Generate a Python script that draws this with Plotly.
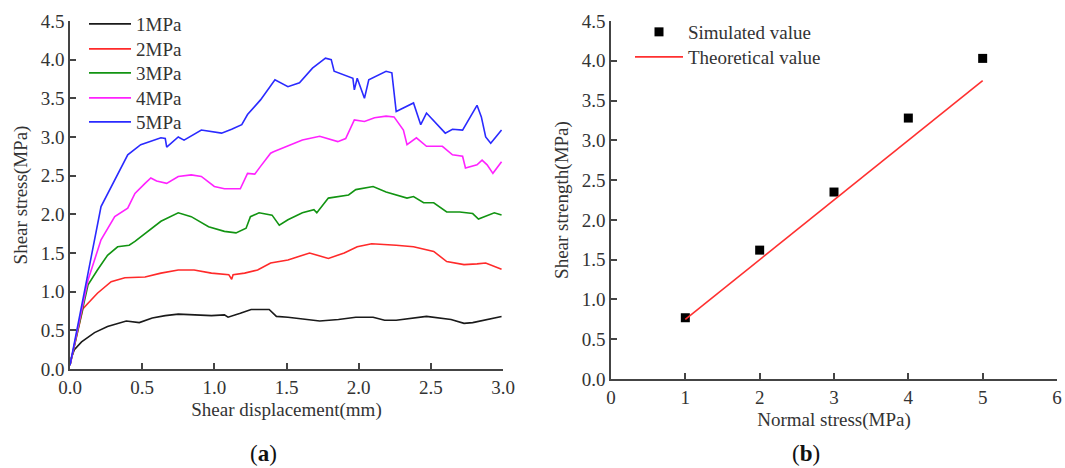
import plotly.graph_objects as go

# ---------------- data: panel (a) shear stress vs shear displacement ----------------
disp_1MPa = [0, 0.01, 0.03, 0.08, 0.17, 0.26, 0.39, 0.48, 0.57, 0.66, 0.75, 0.98, 1.07, 1.095, 1.18,
             1.255, 1.38, 1.43, 1.51, 1.73, 1.86, 1.98, 2.10, 2.18, 2.26, 2.47, 2.64, 2.73, 2.79, 2.88, 2.99]
stress_1MPa = [0.05, 0.15, 0.25, 0.35, 0.47, 0.55, 0.62, 0.60, 0.66, 0.69, 0.71, 0.69, 0.70, 0.67, 0.72,
               0.77, 0.77, 0.68, 0.67, 0.62, 0.64, 0.67, 0.67, 0.63, 0.63, 0.68, 0.64, 0.59, 0.60, 0.64, 0.68]

disp_2MPa = [0, 0.055, 0.09, 0.125, 0.19, 0.285, 0.38, 0.52, 0.63, 0.75, 0.86, 0.98, 1.10, 1.12, 1.13, 1.21,
             1.30, 1.39, 1.51, 1.66, 1.79, 1.90, 1.99, 2.09, 2.19, 2.26, 2.38, 2.52, 2.61, 2.73, 2.82, 2.88, 2.99]
stress_2MPa = [0.05, 0.50, 0.78, 0.85, 0.98, 1.13, 1.18, 1.19, 1.24, 1.28, 1.28, 1.24, 1.22, 1.16, 1.22, 1.24,
               1.28, 1.37, 1.41, 1.50, 1.43, 1.50, 1.58, 1.62, 1.61, 1.60, 1.58, 1.52, 1.39, 1.35, 1.36, 1.37, 1.29]

disp_3MPa = [0, 0.09, 0.125, 0.19, 0.26, 0.33, 0.41, 0.45, 0.54, 0.63, 0.75, 0.84, 0.96, 1.07, 1.15, 1.22,
             1.25, 1.31, 1.40, 1.45, 1.51, 1.61, 1.69, 1.71, 1.79, 1.93, 1.98, 2.10, 2.19, 2.26, 2.335,
             2.38, 2.45, 2.52, 2.61, 2.70, 2.79, 2.83, 2.94, 2.99]
stress_3MPa = [0.05, 0.82, 1.09, 1.28, 1.47, 1.58, 1.60, 1.65, 1.78, 1.91, 2.02, 1.97, 1.84, 1.78, 1.76, 1.82,
               1.97, 2.02, 1.99, 1.86, 1.93, 2.02, 2.06, 2.02, 2.21, 2.25, 2.32, 2.36, 2.29, 2.25, 2.21,
               2.23, 2.15, 2.15, 2.03, 2.03, 2.01, 1.94, 2.02, 1.99]

disp_4MPa = [0, 0.09, 0.125, 0.215, 0.31, 0.40, 0.45, 0.52, 0.56, 0.60, 0.67, 0.75, 0.84, 0.91, 1.00, 1.07,
             1.18, 1.23, 1.28, 1.32, 1.39, 1.41, 1.51, 1.61, 1.73, 1.855, 1.91, 1.97, 2.04, 2.11, 2.19,
             2.245, 2.31, 2.335, 2.40, 2.47, 2.58, 2.65, 2.72, 2.74, 2.82, 2.855, 2.89, 2.93, 2.99]
stress_4MPa = [0.05, 0.82, 1.15, 1.67, 1.97, 2.08, 2.27, 2.40, 2.47, 2.43, 2.40, 2.49, 2.51, 2.49, 2.36, 2.33,
               2.33, 2.53, 2.52, 2.62, 2.79, 2.81, 2.88, 2.96, 3.01, 2.94, 2.98, 3.22, 3.20, 3.25, 3.27,
               3.26, 3.09, 2.90, 2.99, 2.88, 2.88, 2.77, 2.75, 2.60, 2.64, 2.70, 2.64, 2.53, 2.68]

disp_5MPa = [0, 0.09, 0.125, 0.215, 0.31, 0.40, 0.49, 0.63, 0.66, 0.67, 0.75, 0.79, 0.91, 1.05, 1.12, 1.19,
             1.23, 1.32, 1.42, 1.46, 1.51, 1.59, 1.68, 1.77, 1.81, 1.83, 1.91, 1.96, 1.97, 1.99, 2.04, 2.07,
             2.19, 2.23, 2.26, 2.38, 2.43, 2.47, 2.60, 2.65, 2.72, 2.82, 2.85, 2.88, 2.915, 2.99]
stress_5MPa = [0.05, 0.88, 1.24, 2.10, 2.45, 2.77, 2.90, 2.99, 2.98, 2.87, 3.00, 2.96, 3.09, 3.05, 3.10, 3.16,
               3.29, 3.48, 3.74, 3.70, 3.65, 3.70, 3.89, 4.02, 4.00, 3.85, 3.80, 3.76, 3.61, 3.76, 3.50, 3.74,
               3.85, 3.83, 3.33, 3.44, 3.16, 3.31, 3.05, 3.10, 3.09, 3.41, 3.26, 3.00, 2.92, 3.09]

curve_names = ["1MPa", "2MPa", "3MPa", "4MPa", "5MPa"]
curve_colors = ["#1a1a1a", "#ff2a2a", "#129412", "#ff22ff", "#2a2aff"]

# ---------------- data: panel (b) shear strength vs normal stress ----------------
normal_stress = [1, 2, 3, 4, 5]
simulated_strength = [0.77, 1.62, 2.35, 3.28, 4.03]
theory_stress = [1, 5]
theory_strength = [0.75, 3.75]

FONT = "Liberation Serif"
AX = "#444444"
TXT = "#333333"

W, H = 1065, 468


def xp(px):
    return px / W


def yp(py):
    return 1 - py / H


fig = go.Figure()

curves = [(disp_1MPa, stress_1MPa), (disp_2MPa, stress_2MPa), (disp_3MPa, stress_3MPa),
          (disp_4MPa, stress_4MPa), (disp_5MPa, stress_5MPa)]
legend_ids = ["legend", "legend2", "legend3", "legend4", "legend5"]
for (xs, ys), name, col, lg in zip(curves, curve_names, curve_colors, legend_ids):
    fig.add_trace(go.Scatter(x=xs, y=ys, mode="lines", name=name,
                             line=dict(color=col, width=1.6),
                             xaxis="x", yaxis="y", legend=lg))

fig.add_trace(go.Scatter(x=normal_stress, y=simulated_strength, mode="markers",
                         name="Simulated value",
                         marker=dict(symbol="square", color="black", size=9),
                         xaxis="x2", yaxis="y2", legend="legend6"))
fig.add_trace(go.Scatter(x=theory_stress, y=theory_strength, mode="lines",
                         name="Theoretical value",
                         line=dict(color="#ff3030", width=1.6),
                         xaxis="x2", yaxis="y2", legend="legend7"))


def axis_common():
    return dict(showline=True, linecolor=AX, linewidth=1.6, ticks="inside", ticklen=6,
                tickwidth=1.5, tickcolor=AX, showgrid=False, zeroline=False, automargin=False,
                tickfont=dict(family=FONT, size=19, color=TXT))


def title(text, standoff):
    return dict(text=text, font=dict(family=FONT, size=19, color=TXT), standoff=standoff)


xa = axis_common()
xa.update(domain=[xp(70), xp(503)], range=[0, 3], dtick=0.5, tick0=0, tickformat=".1f",
          anchor="y", title=title("Shear displacement(mm)", 6))
ya = axis_common()
ya.update(domain=[yp(369), yp(21)], range=[0, 4.5], dtick=0.5, tick0=0, tickformat=".1f",
          anchor="x", title=title("Shear stress(MPa)", 8))
xb = axis_common()
xb.update(domain=[xp(611), xp(1057)], range=[0, 6], dtick=1, tick0=0, anchor="y2",
          title=title("Normal stress(MPa)", 6))
yb = axis_common()
yb.update(domain=[yp(379), yp(21)], range=[0, 4.5], dtick=0.5, tick0=0, tickformat=".1f",
          anchor="x2", title=title("Shear strength(MPa)", 8))


def legend_at(xpx, ypx, itemwidth=40):
    return dict(x=xp(xpx), y=yp(ypx), xanchor="left", yanchor="middle",
                font=dict(family=FONT, size=19, color=TXT), bgcolor="rgba(0,0,0,0)",
                itemwidth=itemwidth, tracegroupgap=0)


layout_legends = {}
left_rows = [24, 49, 73, 98, 122]
for lg, yc in zip(legend_ids, left_rows):
    layout_legends[lg] = legend_at(84, yc, 42)
layout_legends["legend6"] = legend_at(630, 32, 48)
layout_legends["legend7"] = legend_at(630, 57, 48)

fig.update_layout(
    width=W, height=H,
    margin=dict(l=0, r=0, t=0, b=0),
    paper_bgcolor="white", plot_bgcolor="white",
    showlegend=True,
    hovermode=False,
    xaxis=xa, yaxis=ya, xaxis2=xb, yaxis2=yb,
    annotations=[
        dict(text="(<b>a</b>)", x=xp(263), y=yp(453), xref="paper", yref="paper",
             xanchor="center", yanchor="middle",
             showarrow=False, font=dict(family=FONT, size=23, color="#111")),
        dict(text="(<b>b</b>)", x=xp(806), y=yp(453), xref="paper", yref="paper",
             xanchor="center", yanchor="middle",
             showarrow=False, font=dict(family=FONT, size=23, color="#111")),
    ],
    **layout_legends,
)

# remove the browser's default 8px body margin so the figure fills the window exactly
fig.write_html("out.html",
               config={"displayModeBar": False},
               post_script="document.body.style.margin='0';document.body.style.overflow='hidden';")
